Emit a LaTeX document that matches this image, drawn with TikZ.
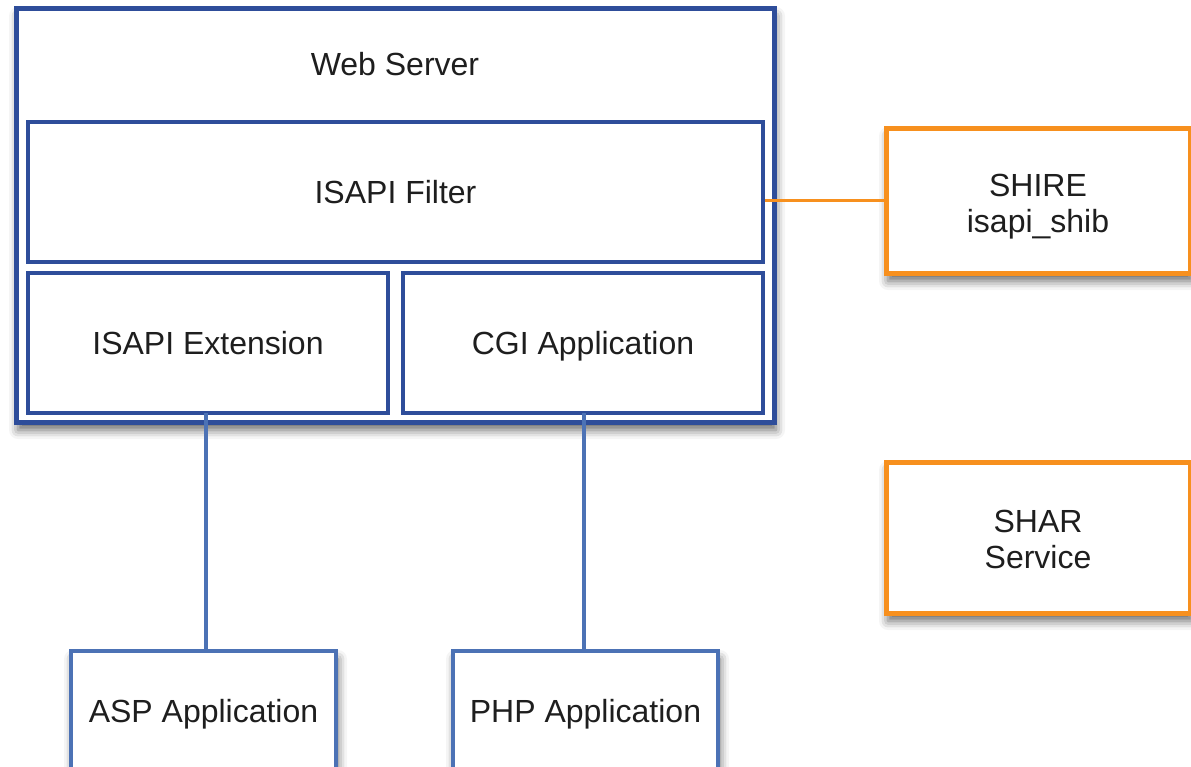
\documentclass[tikz,border=0pt]{standalone}
\usepackage{fontspec}
\setmainfont{Liberation Sans}
\usetikzlibrary{shadows.blur}
\definecolor{dblue}{HTML}{2E4D9A}
\definecolor{lblue}{HTML}{4C72B5}
\definecolor{orng}{HTML}{F7901E}
\definecolor{txt}{HTML}{1E1E1E}
\begin{document}
\begin{tikzpicture}[x=1pt,y=-1pt,
  base/.style={draw=dblue, line width=4.5pt, fill=white, rectangle, inner sep=0pt,
    text=txt, font=\fontsize{32}{36}\selectfont, align=center},
  box/.style={base, text height=29pt, text depth=7pt},
  shad/.style={blur shadow={shadow xshift=2pt, shadow yshift=-8pt, shadow blur radius=9pt, shadow opacity=60}},
  obox/.style={base, draw=orng, line width=5pt, shad},
  abox/.style={box, draw=lblue, line width=4pt, shad},
  bline/.style={draw=lblue, line width=3.2pt},
  oline/.style={draw=orng, line width=3.8pt}]
\useasboundingbox (0,0) rectangle (1191,766);
\node[box, line width=5pt, shad, minimum width=758pt, minimum height=414pt] (ws) at (395,215) {};
\node[text=txt, font=\fontsize{32}{36}\selectfont, text height=29pt, text depth=7pt, inner sep=0pt] (wst) at (395,64) {Web Server};
\node[box, minimum width=735pt, minimum height=140pt] (filter) at (395.5,192) {ISAPI Filter};
\node[box, minimum width=360pt, minimum height=140pt] (ext) at (208,343) {ISAPI Extension};
\node[box, minimum width=360pt, minimum height=140pt] (cgi) at (583,343) {CGI Application};
\node[obox, minimum width=304pt, minimum height=145pt] (shire) at (1038,200.5) {\raisebox{-7pt}[\height][\depth]{\begin{tabular}{@{}c@{}}SHIRE\\isapi\_shib\end{tabular}}};
\node[obox, minimum width=304pt, minimum height=151pt] (shar) at (1038,537.5) {\raisebox{-6pt}[\height][\depth]{\begin{tabular}{@{}c@{}}SHAR\\Service\end{tabular}}};
\node[abox, minimum width=265pt, minimum height=120pt] (asp) at (203.5,711) {ASP Application};
\node[abox, minimum width=265pt, minimum height=120pt] (php) at (585.5,711) {PHP Application};
\draw[bline] (asp.north -| 206,0) -- (206,413);
\draw[bline] (php.north -| 584,0) -- (584,413);
\draw[oline] (shire.west) -- (shire.west -| filter.east);
\end{tikzpicture}
\end{document}
